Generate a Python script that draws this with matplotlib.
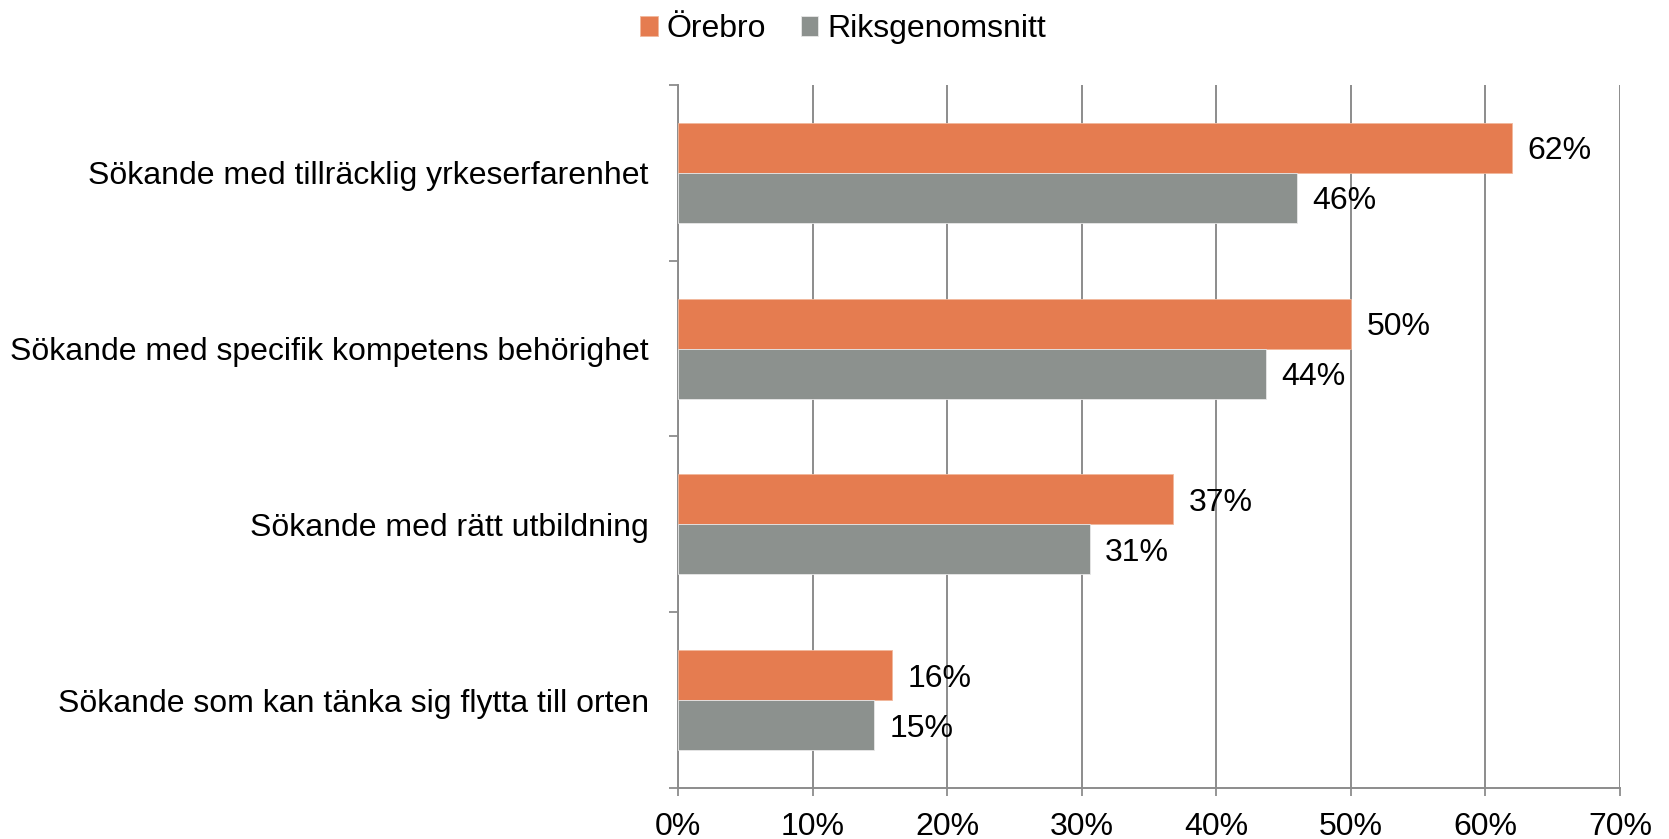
import matplotlib
matplotlib.use("Agg")
import matplotlib.pyplot as plt
import numpy as np

plt.rcParams['font.family'] = ['Liberation Sans', 'DejaVu Sans']

categories = [
    "Sökande med tillräcklig yrkeserfarenhet",
    "Sökande med specifik kompetens behörighet",
    "Sökande med rätt utbildning",
    "Sökande som kan tänka sig flytta till orten",
]
orebro = [62.0, 50.0, 36.8, 15.9]
riks = [46.0, 43.7, 30.6, 14.6]
series_names = ["Örebro", "Riksgenomsnitt"]
xticks = [0, 10, 20, 30, 40, 50, 60, 70]

orange = "#E57C50"
grey = "#8C918E"
axis_grey = "#8C8C8C"
fs = 23

fig = plt.figure(figsize=(16.69, 8.39), dpi=100)
ax = fig.add_axes([0.4062, 0.0608, 0.5644, 0.8379])

y = np.arange(len(categories))
h = 0.284
b1 = ax.barh(y - h / 2, orebro, height=h, color=orange, edgecolor="#F2B89C", linewidth=0.6, label=series_names[0], zorder=3)
b2 = ax.barh(y + h / 2, riks, height=h, color=grey, edgecolor="#E8E8E8", linewidth=0.6, label=series_names[1], zorder=3)

for bars, vals in ((b1, orebro), (b2, riks)):
    for rect, v in zip(bars, vals):
        ax.text(v + 1.15, rect.get_y() + rect.get_height() / 2, f"{round(v):d}%",
                va="center_baseline", ha="left", fontsize=fs, zorder=4)

ax.set_xlim(0, 70)
ax.set_ylim(len(categories) - 0.5, -0.5)
ax.set_xticks(xticks)
ax.set_xticklabels([f"{t}%" for t in xticks], fontsize=fs)
ax.xaxis.grid(True, color=axis_grey, linewidth=1.4, zorder=0)

# category boundaries as major ticks, labels on minor ticks
ax.set_yticks(np.arange(-0.5, len(categories), 1.0))
ax.set_yticklabels([])
ax.set_yticks(y, minor=True)
ax.set_yticklabels(categories, minor=True, fontsize=fs)
ax.tick_params(axis="y", which="minor", length=0, pad=21)
ax.tick_params(axis="y", which="major", length=6.5, width=1.3, color=axis_grey, direction="out")
ax.tick_params(axis="x", length=6, width=1.3, color=axis_grey, pad=11)

for side in ("top", "right"):
    ax.spines[side].set_visible(False)
for side in ("left", "bottom"):
    ax.spines[side].set_color(axis_grey)
    ax.spines[side].set_linewidth(1.4)

fig.legend(handles=[b1, b2], labels=series_names, loc="center", bbox_to_anchor=(0.505, 0.965),
           ncol=2, frameon=False, fontsize=fs, handlelength=0.55, handleheight=0.55,
           handletextpad=0.27, columnspacing=1.1)

plt.savefig("out.png", dpi=100)
plt.close()
